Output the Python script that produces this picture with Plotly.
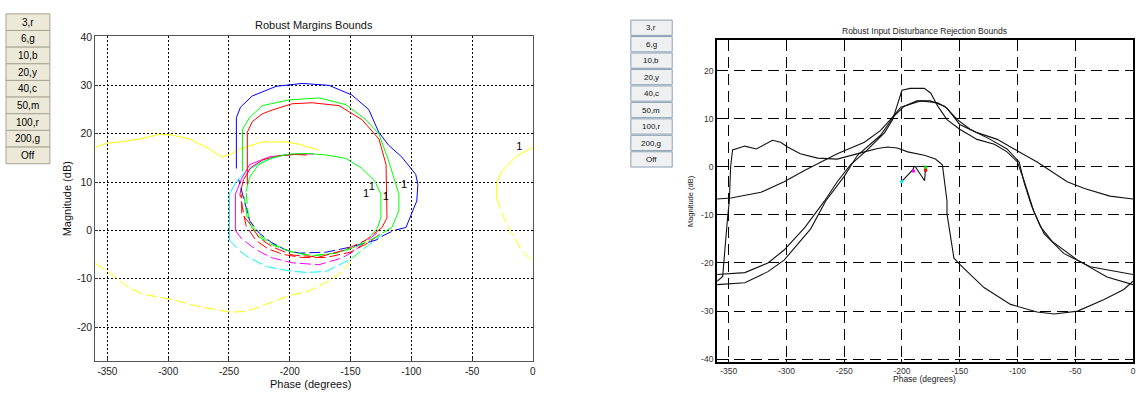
import plotly.graph_objects as go

W, H = 1136, 394

# ---------------- Left chart: Robust Margins Bounds ----------------
# each bound: solid (upper) part and dashed (lower) part, phase (deg) / magnitude (dB)
RED3_S_PH = [-234.9, -234.9, -230.8, -222.6, -214.4, -198, -181.5, -159.4, -140.6, -126.6, -120.8, -120, -120, -124.1]
RED3_S_DB = [9.5, 20.3, 22.5, 24.1, 24.9, 26.2, 26.4, 25.8, 22.9, 18.9, 13.6, 6.1, 2.6, 0.6]
RED3_D_PH = [-124.1, -129, -137.3, -155.3, -175.8, -198, -214.4, -225, -233.2, -239.5, -239.5]
RED3_D_DB = [0.6, -0.4, -2, -4.1, -5.5, -5.1, -3.4, -1.6, 1.5, 3.4, 7.5]

GRN6_S_PH = [-238.9, -238.9, -233.2, -222.6, -200.4, -175.8, -153.7, -137.3, -126.6, -122.5, -118.4, -110.2, -110.2, -116]
GRN6_S_DB = [12.2, 20.9, 23.3, 25.8, 27.0, 27.4, 26.0, 22.9, 19.9, 17.2, 14.2, 7.5, 4.1, 0.6]
GRN6_D_PH = [-116, -122.5, -130.7, -145.6, -162, -181.6, -198, -214.4, -225, -230.9, -235, -237.5]
GRN6_D_DB = [0.6, -0.4, -1.6, -3.4, -4.7, -5.3, -4.5, -3, -1.4, 0.4, 2.6, 7]

BLU10_S_PH = [-243.9, -243.9, -240.5, -230.9, -211.2, -189.9, -167.7, -148.9, -135, -126.8, -118.6, -107.9, -96.4, -94.6, -95.5, -100.4, -104.4]
BLU10_S_DB = [12.8, 23.3, 25.5, 27.8, 29.8, 30.4, 30.0, 28.0, 25, 20.3, 17.6, 15.2, 11.6, 9.5, 6.1, 3.0, 0.6]
BLU10_D_PH = [-104.4, -114.3, -122.5, -129, -149, -170, -192, -203, -215, -225, -233, -239, -242]
BLU10_D_DB = [0.6, 0, -1, -2, -3.4, -4.5, -4.7, -4.1, -2.5, -0.6, 2, 7.5, 10.5]

YEL20_S_PH = [-360, -349.7, -339.9, -323.5, -307.1, -296.4, -282.5, -266, -256.2, -248, -241.4, -222.6, -202.9, -192.3, -175.9]
YEL20_S_DB = [17.2, 18.1, 18.3, 18.9, 19.9, 19.7, 18.9, 16.8, 15.2, 15.8, 16.8, 18.3, 18.3, 17.8, 16.6]
YEL20_ARC_S_PH = [0, -11.7, -18.3, -25.7, -29.8, -29.8]
YEL20_ARC_S_DB = [17.2, 15.6, 14.2, 12.2, 9.7, 6.7]
YEL20_ARC_D_PH = [-29.8, -25.7, -20, -14.2, -9.3, 0]
YEL20_ARC_D_DB = [6.7, 3.7, 0.6, -2, -4.1, -6.5]
YEL20_D_PH = [-360, -349.5, -334.4, -321, -298.8, -274, -249.6, -236, -225, -200.4, -184, -170.3, -156.8, -151, -141, -134]
YEL20_D_DB = [-6.8, -8.5, -11.5, -13.2, -14.2, -15.8, -16.9, -16.8, -15.8, -13.5, -12.5, -10.8, -8.5, -6.7, -4.1, -2]

CYN40_S_PH = [-249.6, -249.6, -244, -236, -222.6, -206, -186.6]
CYN40_S_DB = [-2, 7.5, 10.1, 12.2, 14.2, 15.6, 15.8]
CYN40_D_PH = [-249.6, -240, -233, -219, -200, -186.5, -170.3, -151, -140, -130, -124]
CYN40_D_DB = [-2, -4.5, -5.7, -7.5, -8.4, -8.7, -8.5, -6.1, -4, -2, -0.8]

MAG50_S_PH = [-244.7, -244.7, -240, -233, -217, -195, -180]
MAG50_S_DB = [0, 7.5, 10.5, 13.6, 15.2, 15.8, 15.8]
MAG50_D_PH = [-244.7, -240, -230.8, -222.6, -214, -198, -176, -157, -148.5, -138, -128]
MAG50_D_DB = [0, -1.6, -3.4, -4.7, -5.7, -6.7, -7.1, -5.7, -4.5, -2.5, -0.5]

RED100_S_PH = [-241, -238, -232, -222, -210, -196, -186]
RED100_S_DB = [7.5, 10.5, 13, 14.6, 15.4, 15.7, 15.6]
RED100_D_PH = [-126, -135, -150, -170, -190, -205, -218, -228, -236, -241]
RED100_D_DB = [-0.8, -2.5, -4.5, -5.6, -5.6, -5.0, -3.8, -2.0, 1.0, 7.5]

GRN200_S_PH = [-236, -233, -226, -215, -200, -185, -170, -154, -141, -130, -125, -125, -128]
GRN200_S_DB = [8, 11, 13.5, 15, 15.8, 15.9, 15.6, 14.9, 12.9, 10.2, 7.5, 2.7, 0.4]
GRN200_D_PH = [-128, -135, -146, -162, -182, -199, -214, -224, -230, -234, -236]
GRN200_D_DB = [0.4, -1.6, -3.4, -4.7, -5.2, -4.4, -2.8, -1.2, 0.6, 3, 8]

LABEL_PH = [-106, -121, -132.4, -137.3, -11.2]
LABEL_DB = [9.3, 6.9, 8.9, 7.5, 17.2]
LABEL_TXT = ["1", "1", "1", "1", "1"]

# ---------------- Right chart: Robust Input Disturbance Rejection Bounds ----------------
A_PH = [-360, -355.2, -350.9, -349.4, -348.3, -346.6, -336, -326, -312, -305, -299, -288, -273, -256, -232.5, -221, -212.6, -204, -195, -180.6, -171, -165, -161, -161, -155, -149.5, -129, -106, -83, -68, -48, -25, -8, 0]
A_DB = [-23.8, -22.8, -10.5, -7.1, 0, 3.5, 4.3, 3.7, 5.5, 5.1, 4.1, 2.7, 1.8, 1.6, 3.1, 3.8, 4.1, 3.9, 3.1, 2.4, 1.6, 0.4, -7.1, -9.8, -19, -20.4, -25.1, -28.6, -30.2, -30.6, -30, -27.6, -25.5, -23.8]

B_PH = [-360, -348, -322, -302, -284, -262, -256, -232.5, -218.7, -210, -201, -184, -169, -161, -150, -135, -117.5, -103, -83, -57, -42, -20, 0]
B_DB = [-6.7, -6.5, -5.3, -3.1, -0.7, 2.0, 2.7, 5.1, 7.5, 9.8, 12.4, 13.7, 13.3, 12.2, 8.8, 7.1, 5.7, 3.7, 1.0, -3.1, -4.5, -6.1, -6.7]

C_PH = [-360, -336, -316, -302, -284, -267, -256, -244.6, -230, -215, -208, -200, -193, -180.6, -175, -169, -161, -150, -135, -120, -109, -100, -94, -86, -77, -60, -37, 0]
C_DB = [-22.4, -22, -20, -17.3, -12.6, -7.1, -3.1, 0.4, 3.5, 7.1, 9.8, 15.9, 16.3, 16.3, 15.3, 12.6, 9.8, 7.8, 5.7, 4.7, 3.1, 1.0, -3.1, -9.2, -13.9, -18, -20.8, -22.4]

D_PH = [-360, -336, -316, -302, -279, -266, -250, -238.5, -218.7, -206.6, -198, -187, -175.5, -163, -152, -141, -123.6, -109, -98.5, -94, -88, -80, -70, -48, -22.5, 0]
D_DB = [-24.5, -24.1, -21.8, -19.4, -12.9, -7.1, -2.0, 2.4, 6.5, 10.6, 12.6, 13.7, 13.7, 12.6, 9.8, 7.8, 5.7, 3.7, 1.0, -3.5, -8, -12.5, -15.5, -19.4, -22.9, -24.5]

LOOP_PH = [-200.3, -190.5, -189.6, -179.5, -179.8, -180.4, -188.4]
LOOP_DB = [-3.1, -0.6, 0, 0.1, -1, -2.9, 0]
PT_PH = [-200.3, -190.1, -179.5, -179.5]
PT_DB = [-3.1, -0.9, -0.2, -0.7]
PT_COL = ["#00ffff", "#ff00ff", "#00ff00", "#ff0000"]

BUTTON_LABELS = ["3,r", "6,g", "10,b", "20,y", "40,c", "50,m", "100,r", "200,g", "Off"]

X_TICKS = [-350, -300, -250, -200, -150, -100, -50, 0]
X_TICK_TEXT = ["-350", "-300", "-250", "-200", "-150", "-100", "-50", "0"]
Y1_TICKS = [-20, -10, 0, 10, 20, 30, 40]
Y1_TICK_TEXT = ["-20", "-10", "0", "10", "20", "30", "40"]
Y2_TICKS = [-40, -30, -20, -10, 0, 10, 20]
Y2_TICK_TEXT = ["-40", "-30", "-20", "-10", "0", "10", "20"]

FONT = "Liberation Sans, Arial, sans-serif"

fig = go.Figure()

DASH = "11px,4px"


def add_line(ph, db, color, dash="solid", xa="x", ya="y", width=1.0):
    fig.add_trace(go.Scatter(x=ph, y=db, mode="lines", xaxis=xa, yaxis=ya,
                             line=dict(color=color, width=width, dash=dash),
                             hoverinfo="skip", showlegend=False))


# yellow first (behind)
add_line(YEL20_S_PH, YEL20_S_DB, "#ffff00")
add_line(YEL20_ARC_S_PH, YEL20_ARC_S_DB, "#ffff00")
add_line(YEL20_ARC_D_PH, YEL20_ARC_D_DB, "#ffff00", DASH)
add_line(YEL20_D_PH, YEL20_D_DB, "#ffff00", DASH)
add_line(CYN40_S_PH, CYN40_S_DB, "#00ffff")
add_line(CYN40_D_PH, CYN40_D_DB, "#00ffff", DASH)
add_line(MAG50_S_PH, MAG50_S_DB, "#ff00ff")
add_line(MAG50_D_PH, MAG50_D_DB, "#ff00ff", DASH)
add_line(RED100_S_PH, RED100_S_DB, "#ff0000")
add_line(RED100_D_PH, RED100_D_DB, "#ff0000", DASH)
add_line(GRN200_S_PH, GRN200_S_DB, "#00ff00")
add_line(GRN200_D_PH, GRN200_D_DB, "#00ff00", DASH)
add_line(BLU10_S_PH, BLU10_S_DB, "#0000ff")
add_line(BLU10_D_PH, BLU10_D_DB, "#0000ff", DASH)
add_line(GRN6_S_PH, GRN6_S_DB, "#00ff00")
add_line(GRN6_D_PH, GRN6_D_DB, "#00ff00", DASH)
add_line(RED3_S_PH, RED3_S_DB, "#ff0000")
add_line(RED3_D_PH, RED3_D_DB, "#ff0000", DASH)

fig.add_trace(go.Scatter(x=LABEL_PH, y=LABEL_DB, mode="text", text=LABEL_TXT,
                         textfont=dict(family=FONT, size=11, color="#000"),
                         xaxis="x", yaxis="y", hoverinfo="skip", showlegend=False))

# right chart
for ph, db in [(A_PH, A_DB), (B_PH, B_DB), (C_PH, C_DB), (D_PH, D_DB)]:
    add_line(ph, db, "#111111", "solid", "x2", "y2", 1.1)
add_line(LOOP_PH, LOOP_DB, "#111111", "solid", "x2", "y2", 1.1)
fig.add_trace(go.Scatter(x=PT_PH, y=PT_DB, mode="markers", xaxis="x2", yaxis="y2",
                         marker=dict(color=PT_COL, size=3, symbol="square"),
                         hoverinfo="skip", showlegend=False))

# plot geometry (pixels)
L_X0, L_X1, L_Y0, L_Y1 = 95.5, 534.3, 31.7, 363.3
R_X0, R_X1, R_Y0, R_Y1 = 719.0, 1136.0, 36.0, 364.0


def px(v):
    return v / W


def py(v):
    return 1 - v / H


axis_common = dict(showgrid=True, zeroline=False, showline=True, mirror=True,
                   ticks="inside", fixedrange=True)

fig.update_layout(
    width=W, height=H, autosize=False,
    margin=dict(l=0, r=0, t=0, b=0),
    paper_bgcolor="white", plot_bgcolor="white",
    font=dict(family=FONT, color="#000"),
    xaxis=dict(domain=[px(L_X0), px(L_X1)], range=[-360, 0], tickvals=X_TICKS, ticktext=X_TICK_TEXT,
               gridcolor="#000", griddash="2px,2px", gridwidth=1, ticklabelstandoff=1,
               linecolor="#555", linewidth=1, ticklen=3, tickcolor="#333",
               tickfont=dict(size=10, color="#222"), anchor="y", **axis_common),
    yaxis=dict(domain=[py(L_Y1), py(L_Y0)], range=[-27, 40.2], tickvals=Y1_TICKS, ticktext=Y1_TICK_TEXT,
               gridcolor="#000", griddash="2px,2px", gridwidth=1,
               linecolor="#555", linewidth=1, ticklen=3, tickcolor="#333",
               tickfont=dict(size=10.5, color="#222"), anchor="x", **axis_common),
    xaxis2=dict(domain=[px(R_X0), px(R_X1)], range=[-360, 0], tickvals=X_TICKS, ticktext=X_TICK_TEXT,
                gridcolor="#000", griddash="11px,6px", gridwidth=1.2,
                linecolor="#000", linewidth=2, ticklen=3, tickcolor="#000",
                tickfont=dict(size=8.5, color="#333"), anchor="y2", **axis_common),
    yaxis2=dict(domain=[py(R_Y1), py(R_Y0)], range=[-40.5, 26.3], tickvals=Y2_TICKS, ticktext=Y2_TICK_TEXT,
                gridcolor="#000", griddash="11px,6px", gridwidth=1.2,
                linecolor="#000", linewidth=2, ticklen=3, tickcolor="#000",
                tickfont=dict(size=8.5, color="#333"), anchor="x2", **axis_common),
)

ann = []


def note(x, y, text, size, color="#111", angle=0):
    ann.append(dict(x=px(x), y=py(y), xref="paper", yref="paper", text=text,
                    textangle=angle, font=dict(size=size, color=color),
                    showarrow=False, xanchor="center", yanchor="middle"))


# titles and axis labels
note((L_X0 + L_X1) / 2, 20, "Robust Margins Bounds", 11)
note(311, 386.5, "Phase (degrees)", 11)
note(68, (L_Y0 + L_Y1) / 2, "Magnitude (dB)", 11, angle=-90)
note(927, 27, "Robust Input Disturbance Rejection Bounds", 8.5, "#222")
note(927, 382, "Phase (degrees)", 8.5, "#222")
note(693, 200, "Magnitude (dB)", 7.5, "#222", angle=-90)

shapes = []
# left button column
bh = 17.0
for i, lab in enumerate(BUTTON_LABELS):
    t = 9 + i * bh
    shapes.append(dict(type="rect", xref="paper", yref="paper",
                       x0=px(6), x1=px(50), y0=py(t + bh), y1=py(t),
                       fillcolor="#ece9d8", line=dict(color="#a8a496", width=1), layer="below"))
    note(28, t + bh / 2, lab, 10, "#000")
# right button column
bh2 = 16.8
for i, lab in enumerate(BUTTON_LABELS):
    t = 15 + i * bh2
    shapes.append(dict(type="rect", xref="paper", yref="paper",
                       x0=px(632.5), x1=px(674), y0=py(t + bh2 - 0.8), y1=py(t + 0.4),
                       fillcolor="#eef0f2", line=dict(color="#8d9fb3", width=1), layer="below"))
    note(653.2, t + bh2 / 2, lab, 8, "#111")

fig.update_layout(annotations=ann, shapes=shapes)

fig.write_html("out.html", config={"displayModeBar": False},
               post_script="document.body.style.margin='0px';document.body.style.overflow='hidden';")
